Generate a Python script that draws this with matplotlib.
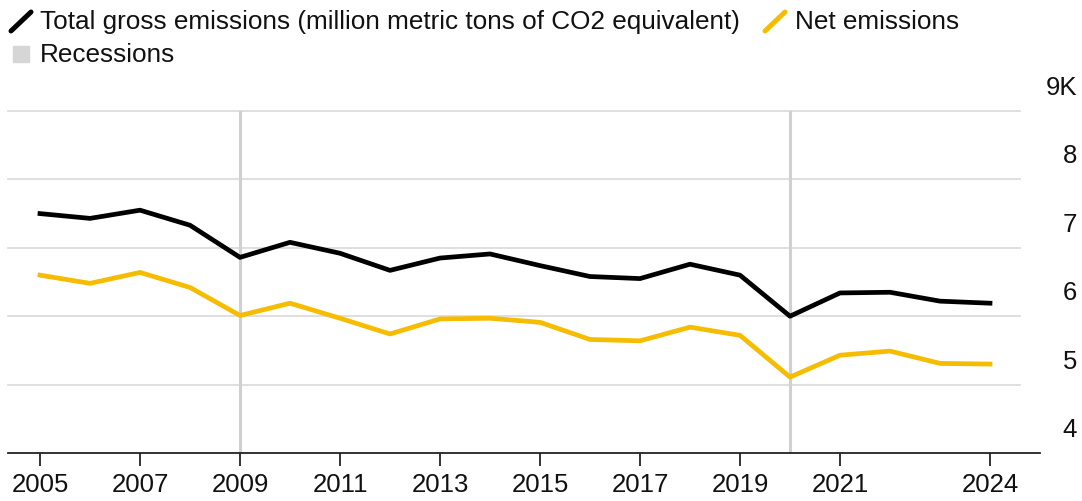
import numpy as np
import matplotlib.pyplot as plt
from matplotlib.lines import Line2D
from matplotlib.patches import Rectangle

plt.rcParams['font.family'] = ['Liberation Sans', 'DejaVu Sans']

# Datos
years = np.arange(2005, 2025)
gross = [7.50, 7.43, 7.55, 7.33, 6.86, 7.08, 6.92, 6.67, 6.85, 6.91,
         6.74, 6.58, 6.55, 6.76, 6.60, 6.00, 6.34, 6.35, 6.22, 6.19]
net = [6.60, 6.48, 6.64, 6.42, 6.01, 6.19, 5.97, 5.74, 5.96, 5.97,
       5.91, 5.66, 5.64, 5.84, 5.72, 5.11, 5.43, 5.49, 5.31, 5.30]
recessions = [2009, 2020]
xticks = [2005, 2007, 2009, 2011, 2013, 2015, 2017, 2019, 2021, 2024]
yticks = [4, 5, 6, 7, 8, 9]
ylabels = ["4", "5", "6", "7", "8", "9K"]

black = "#000000"
yellow = "#f5bc00"
grid_c = "#dcdcdc"

fig = plt.figure(figsize=(10.82, 5.02), dpi=100)
W, H = 1082, 502
ax = fig.add_axes([8 / W, 1 - 454 / H, (1040 - 8) / W, (454 - 112) / H])

ax.set_xlim(2005 - 32 / 50, 2005 + 1032 / 50 - 32 / 50)
ax.set_ylim(4, 9)

for y in yticks[1:]:
    ax.plot([ax.get_xlim()[0], 2024.6], [y, y], color=grid_c, lw=1.3, zorder=1,
            clip_on=False)

for r in recessions:
    ax.axvline(r, color="#d0d0d0", lw=2.2, zorder=1)

ax.plot(years, gross, color=black, lw=3.4, zorder=3, solid_joinstyle="round")
ax.plot(years, net, color=yellow, lw=3.4, zorder=3, solid_joinstyle="round")

for s in ["top", "right", "left"]:
    ax.spines[s].set_visible(False)
ax.spines["bottom"].set_color("#222222")
ax.spines["bottom"].set_linewidth(1.3)

ax.set_yticks([])
ax.set_xticks(xticks)
ax.set_xticklabels([str(t) for t in xticks], fontsize=18.5, color="#111111")
ax.tick_params(axis="x", length=9, width=1.3, color="#222222", pad=5)

# Etiquetas del eje y a la derecha, encima de las líneas
for y, lab in zip(yticks, ylabels):
    ax.text(1077 / W, (1 - (454 - (y - 4) * 68.4) / H) + 12 / H, lab,
            transform=fig.transFigure, ha="right", va="bottom",
            fontsize=18.5, color="#111111")

# Leyenda
fig.add_artist(Line2D([11 / W, 31 / W], [1 - 32 / H, 1 - 13 / H], color=black,
                      lw=3.6, solid_capstyle="round"))
fig.text(40 / W, 1 - 22 / H, "Total gross emissions (million metric tons of CO2 equivalent)",
         fontsize=18.8, va="center", color="#111111")
fig.add_artist(Line2D([765 / W, 785 / W], [1 - 32 / H, 1 - 13 / H], color=yellow,
                      lw=3.6, solid_capstyle="round"))
fig.text(795 / W, 1 - 22 / H, "Net emissions", fontsize=18.8, va="center",
         color="#111111")
fig.add_artist(Rectangle((13 / W, 1 - 63 / H), 16 / W, 16 / H,
                         transform=fig.transFigure, color="#d6d6d6"))
fig.text(40 / W, 1 - 55 / H, "Recessions", fontsize=18.8, va="center",
         color="#111111")

fig.savefig("out.png", dpi=100)
